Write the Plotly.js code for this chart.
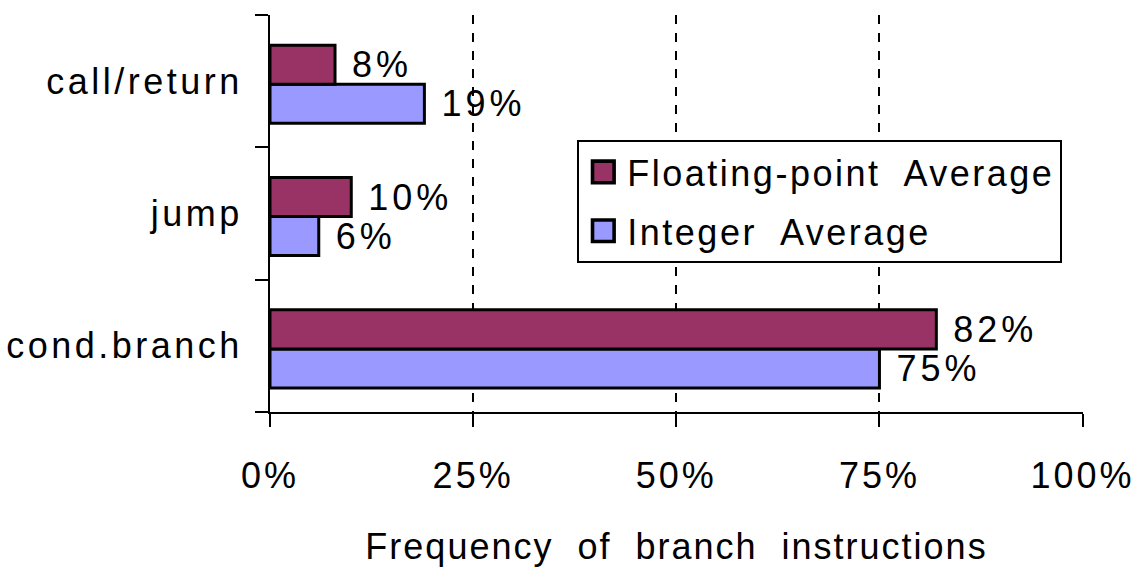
<!DOCTYPE html>
<html>
<head>
<meta charset="utf-8">
<script src="https://cdn.plot.ly/plotly-3.0.1.min.js"></script>
<style>
html,body{margin:0;padding:0;background:#fff;}
#chart{width:1144px;height:567px;}
.ytick text{letter-spacing:3.5px;}
.xtick text{letter-spacing:3px;}
.g-xtitle text{letter-spacing:2px;}
.bartext{letter-spacing:4px;}
.legendtext{letter-spacing:2.5px;}
</style>
</head>
<body>
<div id="chart"></div>
<script>
// Data
var categories = ['cond.branch', 'jump', 'call/return'];
var floatingPointAvg = [82, 10, 8];
var integerAvg = [75, 6, 19];
var seriesNames = ['Floating-point  Average', 'Integer  Average'];
var xTickVals = [0, 25, 50, 75, 100];
var xTickText = ['0%', '25%', '50%', '75%', '100%'];
var xTitle = 'Frequency  of  branch  instructions';

var FONT = 'Liberation Sans, Arial, Helvetica, sans-serif';

function labels(arr) { return arr.map(function (v) { return '\u00a0' + v + '%'; }); }

var traceInt = {
  type: 'bar', orientation: 'h',
  name: seriesNames[1], legendgroup: 'int', legendrank: 2,
  y: categories, x: integerAvg,
  width: 0.295, offset: -0.318,
  marker: {color: '#9999FF', line: {color: '#000000', width: 3}},
  text: labels(integerAvg), textposition: 'outside',
  textfont: {family: FONT, size: 36, color: '#000'},
  constraintext: 'none', cliponaxis: false
};
var traceFP = {
  type: 'bar', orientation: 'h',
  name: seriesNames[0], legendgroup: 'fp', legendrank: 1,
  y: categories, x: floatingPointAvg,
  width: 0.295, offset: -0.023,
  marker: {color: '#993366', line: {color: '#000000', width: 3}},
  text: labels(floatingPointAvg), textposition: 'outside',
  textfont: {family: FONT, size: 36, color: '#000'},
  constraintext: 'none', cliponaxis: false
};

var layout = {
  width: 1144, height: 567,
  margin: {l: 270, r: 61, t: 15, b: 155},
  paper_bgcolor: '#fff', plot_bgcolor: '#fff',
  font: {family: FONT, size: 36, color: '#000'},
  barmode: 'group', bargap: 0.41, bargroupgap: 0,
  showlegend: true,
  legend: {
    x: 0.378, y: 0.685, xanchor: 'left', yanchor: 'top',
    bordercolor: '#000', borderwidth: 2, bgcolor: '#fff',
    traceorder: 'grouped', tracegroupgap: 9, itemwidth: 38,
    font: {family: FONT, size: 36, color: '#000'}
  },
  xaxis: {
    range: [0, 100.05], tickvals: xTickVals, ticktext: xTickText,
    showgrid: true, gridcolor: '#000', gridwidth: 2, griddash: 'dash',
    showline: true, linecolor: '#000', linewidth: 2,
    ticks: 'outside', ticklen: 13, tickwidth: 2, tickcolor: '#000',
    ticklabelstandoff: 18,
    zeroline: false, fixedrange: true,
    tickfont: {family: FONT, size: 36, color: '#000'},
    title: {text: xTitle, font: {family: FONT, size: 36, color: '#000'}, standoff: 40}
  },
  yaxis: {
    type: 'category', categoryorder: 'array', categoryarray: categories,
    showline: true, linecolor: '#000', linewidth: 2,
    ticks: 'outside', tickson: 'boundaries', ticklen: 13, tickwidth: 2, tickcolor: '#000',
    ticklabelstandoff: 18,
    showgrid: false, zeroline: false, fixedrange: true,
    tickfont: {family: FONT, size: 36, color: '#000'}
  }
};

Plotly.newPlot('chart', [traceInt, traceFP], layout, {displayModeBar: false, staticPlot: true}).then(function (gd) {
  // enlarge the legend swatches to match the reference
  gd.querySelectorAll('.legendpoints path').forEach(function (p) {
    var t = p.getAttribute('transform') || '';
    p.setAttribute('transform', t + ' scale(1.8)');
    p.style.strokeWidth = '2px';
  });
});
</script>
</body>
</html>
